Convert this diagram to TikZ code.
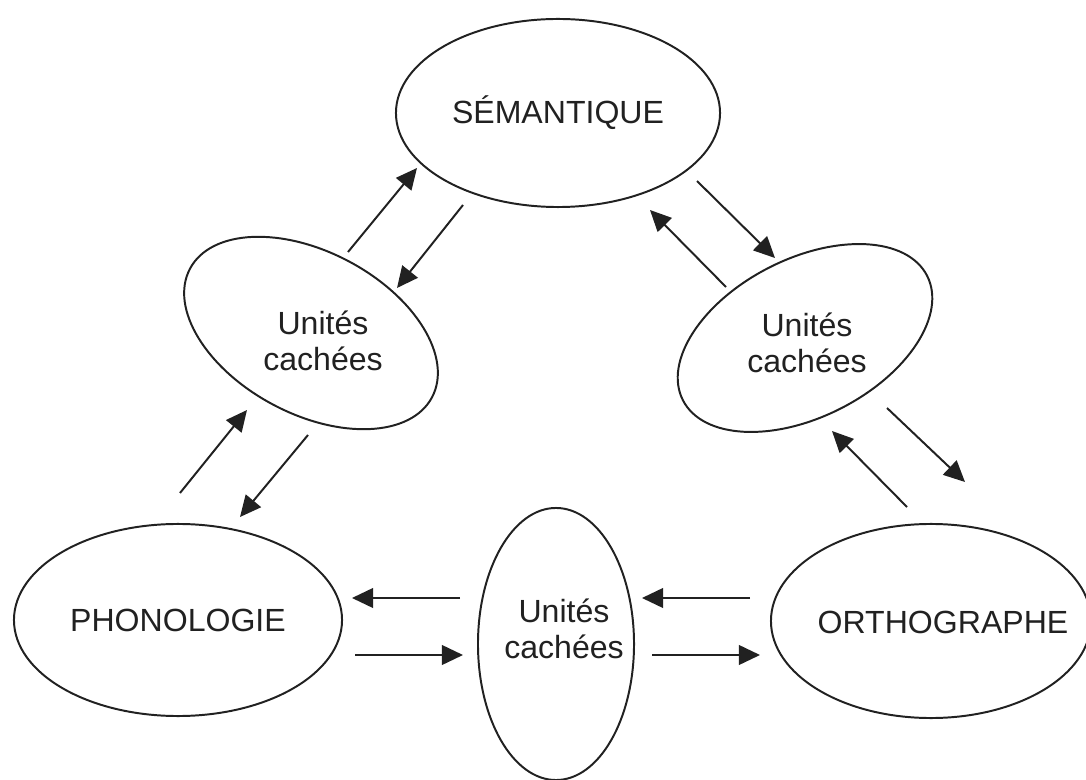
\documentclass[tikz,border=0pt]{standalone}
\usepackage{fontspec}
\usetikzlibrary{shapes.geometric,arrows.meta,calc}
\newfontfamily\diagfont{Liberation Sans}
\newcommand{\bigsans}{\diagfont\fontsize{22.8pt}{25.5pt}\selectfont}
\definecolor{ink}{gray}{0.13}

\begin{document}
\begin{tikzpicture}[x=0.025cm, y=-0.025cm, line width=1.4pt,
    blob/.style={draw=ink, ellipse, inner sep=0pt},
    word/.style={text=ink, font=\bigsans, align=center},
    link/.style={draw=ink, -{Triangle[length=15pt, width=14pt]}}]
    \useasboundingbox (0,0) rectangle (1086,780);
    \clip (0,0) rectangle (1086,780);
    \node [blob, word, minimum width=8.1cm, minimum height=4.7cm] (sem) at (558,113) {SÉMANTIQUE};
    \node [blob, word, minimum width=8.2cm, minimum height=4.8cm] (phon) at (178,620) {PHONOLOGIE};
    \node [blob, minimum width=8.0cm, minimum height=4.85cm] (ortho) at (931,621) {};
    \node [word] (orthotxt) at (943,622) {ORTHOGRAPHE};
    \node [blob, rotate=-28, minimum width=6.85cm, minimum height=4.05cm] (uc1) at (311,333) {};
    \node [word] (uc1txt) at (323,341) {Unités\\cachées};
    \node [blob, rotate=27, minimum width=6.85cm, minimum height=3.95cm] (uc2) at (805,338) {};
    \node [word] (uc2txt) at (807,343) {Unités\\cachées};
    \node [blob, minimum width=3.9cm, minimum height=6.8cm] (uc3) at (556,644) {};
    \node [word] (uc3txt) at (564,629) {Unités\\cachées};
    \draw [link] ($(uc1)+(37,-81)$) -- ($(sem)+(-141,55)$);
    \draw [link] ($(sem)+(-95,92)$) -- ($(uc1)+(86,-45)$);
    \draw [link] ($(sem)+(139,68)$) -- ($(uc2)+(-30,-80)$);
    \draw [link] ($(uc2)+(-79,-51)$) -- ($(sem)+(92,97)$);
    \draw [link] ($(phon)+(2,-127)$) -- ($(uc1)+(-64,77)$);
    \draw [link] ($(uc1)+(-3,102)$) -- ($(phon)+(62,-103)$);
    \draw [link] ($(ortho)+(-24,-114)$) -- ($(uc2)+(27,93)$);
    \draw [link] ($(uc2)+(82,70)$) -- ($(ortho)+(34,-139)$);
    \draw [link] ($(uc3)+(-96,-46)$) -- ($(phon)+(174,-22)$);
    \draw [link] ($(phon)+(177,35)$) -- ($(uc3)+(-93,11)$);
    \draw [link] ($(ortho)+(-181,-23)$) -- ($(uc3)+(86,-46)$);
    \draw [link] ($(uc3)+(96,11)$) -- ($(ortho)+(-171,34)$);
\end{tikzpicture}
\end{document}
